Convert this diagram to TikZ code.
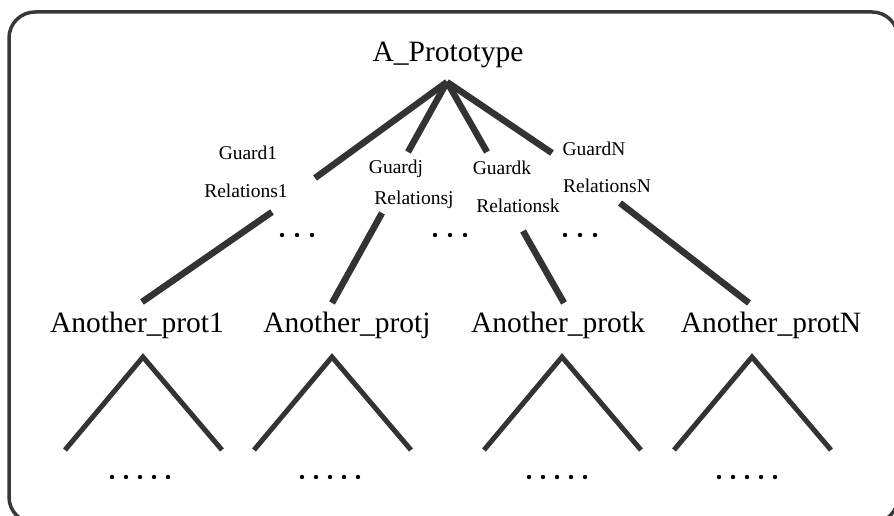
\documentclass[tikz,border=0pt]{standalone}
\usepackage{fontspec}
\setmainfont{Liberation Serif}
\begin{document}
\begin{tikzpicture}[x=1pt,y=-1pt,
  frame/.style={line width=3.5pt, draw=black!78, rounded corners=26pt},
  branch/.style={line width=6.5pt, draw=black!80},
  subtree/.style={line width=5pt, draw=black!80, line join=miter},
  big/.style={font=\fontsize{29.5}{32}\selectfont, inner sep=0pt, anchor=base},
  small/.style={font=\fontsize{19.5}{21}\selectfont, inner sep=0pt, anchor=base},
  dotmark/.style={circle, fill=black, inner sep=0pt, minimum size=4.4pt}]
\useasboundingbox (0,0) rectangle (894,516);
\draw[frame] (9,12) rectangle (898,523);

% root and children
\node[big] (root) at (448,62) {A\_Prototype};
\node[big] (p1) at (137,332) {Another\_prot1};
\node[big] (pj) at (347,332) {Another\_protj};
\node[big] (pk) at (558,332) {Another\_protk};
\node[big] (pN) at (771,332) {Another\_protN};

% edge labels
\node[small] (g1) at (248,160) {Guard1};
\node[small] (r1) at (246,197) {Relations1};
\node[small] (gj) at (396,173) {Guardj};
\node[small] (rj) at (414,204) {Relationsj};
\node[small] (gk) at (502,174) {Guardk};
\node[small] (rk) at (518,212) {Relationsk};
\node[small] (gN) at (594,155) {GuardN};
\node[small] (rN) at (607,192) {RelationsN};

% branch end points
\coordinate (apex) at (447,82);
\coordinate (u1) at (315,178);  \coordinate (l1) at (272,212);  \coordinate (e1) at (142,302);
\coordinate (uj) at (408,152);  \coordinate (lj) at (382,213);  \coordinate (ej) at (332,303);
\coordinate (uk) at (487,152);  \coordinate (lk) at (523,231);  \coordinate (ek) at (564,303);
\coordinate (uN) at (552,153);  \coordinate (lN) at (620,203);  \coordinate (eN) at (749,303);

\draw[branch] (apex) -- (u1);
\draw[branch] (apex) -- (uj);
\draw[branch] (apex) -- (uk);
\draw[branch] (apex) -- (uN);
\draw[branch] (l1) -- (e1);
\draw[branch] (lj) -- (ej);
\draw[branch] (lk) -- (ek);
\draw[branch] (lN) -- (eN);

% elided siblings between the branches
\foreach \cx in {297,450,580}
  \foreach \k in {-1,0,1}
    \node[dotmark] at (\cx+15*\k,235) {};

% subtrees under each child
\foreach \cx/\ax in {140/143,330/332,557/562,747/752}{
  \draw[subtree] (\ax-78,450) -- (\ax,357) -- (\ax+79,450);
  \foreach \k in {-2,-1,0,1,2}
    \node[dotmark] at (\cx+14*\k,477) {};
}
\end{tikzpicture}
\end{document}
